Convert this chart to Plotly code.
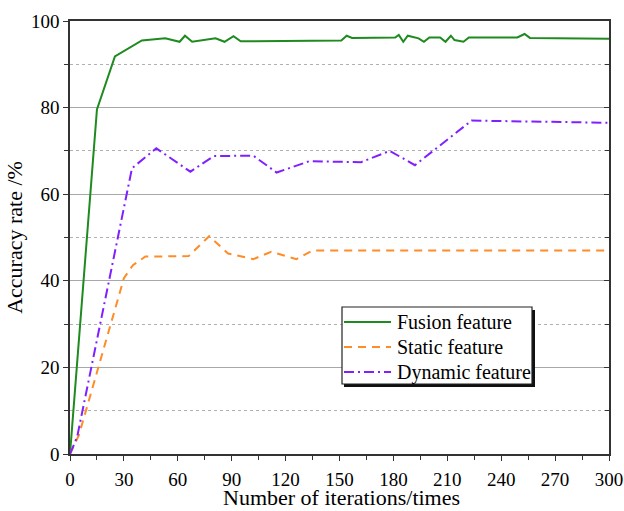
import plotly.graph_objects as go

fusion_x = [0, 15, 25, 40, 53, 61, 64, 68, 81, 86, 91, 95, 151, 154, 157, 181, 183, 185.5, 188, 194, 197, 200, 206, 209, 212, 214, 219, 222, 249, 253, 256, 300]
fusion_y = [0, 79.6, 91.8, 95.5, 96.0, 95.2, 96.6, 95.2, 96.0, 95.2, 96.5, 95.3, 95.5, 96.6, 96.1, 96.2, 96.8, 95.2, 96.6, 96.0, 95.2, 96.2, 96.2, 95.2, 96.6, 95.6, 95.2, 96.2, 96.2, 97.0, 96.1, 95.9]

static_x = [0, 5, 30, 35, 42, 66, 77.5, 88, 102, 112, 126, 135, 300]
static_y = [0, 4.4, 40.6, 43.6, 45.6, 45.7, 50.3, 46.3, 45.0, 46.7, 45.0, 47.0, 47.0]

dynamic_x = [0, 4, 34.5, 48, 67, 80, 102, 115, 133, 162, 178, 192, 223.5, 300]
dynamic_y = [0, 4.0, 66.0, 70.6, 65.2, 68.8, 68.9, 65.0, 67.6, 67.4, 70.0, 66.7, 77.0, 76.5]

series_names = ["Fusion feature", "Static feature", "Dynamic feature"]

x_ticks = [0, 30, 60, 90, 120, 150, 180, 210, 240, 270, 300]
y_ticks = [0, 20, 40, 60, 80, 100]

x_title = "Number of iterations/times"
y_title = "Accuracy rate /%"

FONT = "'Liberation Serif', 'Times New Roman', Times, 'DejaVu Serif', serif"

colors = ["#1f8a1f", "#ff8c26", "#8020ff"]
dashes = ["solid", "8px,6px", "10px,4px,2px,4px"]

fig = go.Figure()
for xs, ys, name, c, d in zip([fusion_x, static_x, dynamic_x], [fusion_y, static_y, dynamic_y],
                              series_names, colors, dashes):
    fig.add_trace(go.Scatter(x=xs, y=ys, mode="lines", name=name,
                             line=dict(color=c, width=2, dash=d)))
# invisible trace for right-side inner ticks
fig.add_trace(go.Scatter(x=[0], y=[0], yaxis="y2", mode="markers", marker=dict(opacity=0),
                         showlegend=False, hoverinfo="skip"))

PX0, PX1, PY0, PY1 = 70, 609, 21, 454
def px(x):
    return (x - PX0) / (PX1 - PX0)
def py(y):
    return (PY1 - y) / (PY1 - PY0)

fig.update_layout(
    width=624, height=511,
    margin=dict(l=70, r=15, t=21, b=57),
    paper_bgcolor="white", plot_bgcolor="white",
    font=dict(family=FONT, size=19, color="black"),
    showlegend=False,
    xaxis=dict(range=[0, 300], tickvals=x_ticks, ticks="outside", ticklen=5,
               tickcolor="#333", showline=True, linecolor="#333", linewidth=1.5,
               mirror=True, showgrid=False, zeroline=False, automargin=False,
               ticklabelstandoff=2,
               minor=dict(dtick=15, ticks="outside", ticklen=4, tickcolor="#333", showgrid=False)),
    yaxis=dict(range=[0, 100], tickvals=y_ticks, ticks="outside", ticklen=5,
               tickcolor="#333", showline=True, linecolor="#333", linewidth=1.5,
               mirror=True, showgrid=True, gridcolor="#a8a8a8", gridwidth=1.2, zeroline=False,
               automargin=False,
               minor=dict(dtick=10, ticks="outside", ticklen=4, tickcolor="#333",
                          showgrid=True, gridcolor="#b0b0b0", griddash="3px,3px", gridwidth=1),
               title=dict(text=y_title, font=dict(size=22), standoff=2)),
    yaxis2=dict(range=[0, 100], overlaying="y", side="right", tickvals=y_ticks,
                ticks="inside", ticklen=5, tickcolor="#333", showticklabels=False,
                showgrid=False, zeroline=False, showline=False, automargin=False,
                minor=dict(dtick=10, ticks="inside", ticklen=4, tickcolor="#333", showgrid=False)),
)

# x-axis title as annotation (exact placement)
fig.add_annotation(xref="paper", yref="paper", x=px(341), y=py(498),
                   text=x_title, showarrow=False, xanchor="center", yanchor="middle",
                   font=dict(family=FONT, size=22, color="black"))

# legend shadow and box
fig.add_shape(type="rect", xref="paper", yref="paper",
              x0=px(344), x1=px(535), y0=py(387), y1=py(310),
              fillcolor="#111", line=dict(width=0), layer="above")
fig.add_shape(type="rect", xref="paper", yref="paper",
              x0=px(342), x1=px(532), y0=py(384), y1=py(307),
              fillcolor="white", line=dict(color="#222", width=1.2), layer="above")
row_y = [322, 347, 372]
for name, c, d, ry in zip(series_names, colors, dashes, row_y):
    fig.add_shape(type="line", xref="paper", yref="paper",
                  x0=px(344), x1=px(391), y0=py(ry), y1=py(ry),
                  line=dict(color=c, width=2, dash=d), layer="above")
    fig.add_annotation(xref="paper", yref="paper", x=px(395), y=py(ry),
                       text=name, showarrow=False, xanchor="left", yanchor="middle",
                       font=dict(family=FONT, size=20, color="black"))

fig.write_html("out.html", config={"displayModeBar": False},
               post_script="document.body.style.margin='0';document.body.style.padding='0';")
